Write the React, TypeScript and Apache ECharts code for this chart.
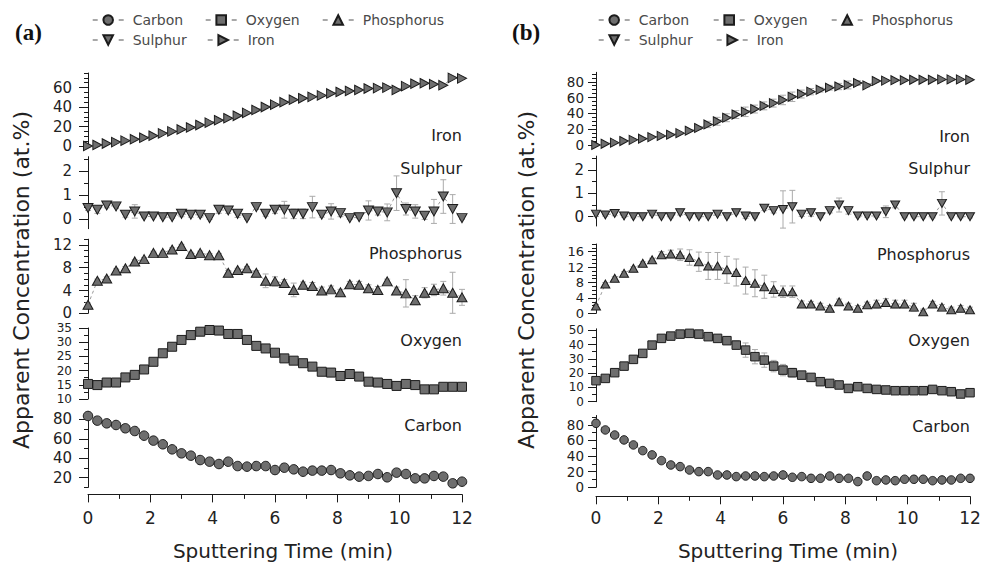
import React, { useEffect, useRef } from 'react';
import * as echarts from 'echarts';

// ---------------- data ----------------
const TIME_MIN = [0, 0.3, 0.6, 0.9, 1.2, 1.5, 1.8, 2.1, 2.4, 2.7, 3, 3.3, 3.6, 3.9, 4.2, 4.5, 4.8, 5.1, 5.4, 5.7, 6, 6.3, 6.6, 6.9, 7.2, 7.5, 7.8, 8.1, 8.4, 8.7, 9, 9.3, 9.6, 9.9, 10.2, 10.5, 10.8, 11.1, 11.4, 11.7, 12];
const ELEMENT_NAMES = ['Iron', 'Sulphur', 'Phosphorus', 'Oxygen', 'Carbon'];
const LEGEND_ORDER = ['Carbon', 'Oxygen', 'Phosphorus', 'Sulphur', 'Iron'];

// panel (a)
const A_IRON = [0, 1, 2.5, 4, 5.5, 7, 8.5, 10.5, 13, 15, 17, 19, 21.5, 24, 26.5, 28.5, 31, 34, 37, 40, 42.5, 45, 47.5, 49, 50.5, 52, 54, 55.5, 56.5, 57.5, 59, 59.5, 60, 57.5, 61.5, 64, 64.5, 63.5, 62.5, 70, 69.5];
const A_SULPHUR = [0.46, 0.39, 0.57, 0.53, 0.18, 0.32, 0.11, 0.11, 0.08, 0.08, 0.22, 0.18, 0.18, 0.04, 0.39, 0.36, 0.22, 0.04, 0.5, 0.22, 0.39, 0.39, 0.22, 0.22, 0.5, 0.18, 0.32, 0.25, 0.04, 0.08, 0.36, 0.32, 0.28, 1.08, 0.42, 0.32, 0.14, 0.32, 0.94, 0.42, 0.04];
const A_SULPHUR_ERR = [0.1, 0.15, 0.1, 0.05, 0.1, 0.28, 0.05, 0.05, 0.05, 0.05, 0.12, 0.1, 0.1, 0.05, 0.15, 0.12, 0.15, 0.05, 0.1, 0.1, 0.15, 0.35, 0.2, 0.2, 0.45, 0.1, 0.32, 0.15, 0.05, 0.05, 0.4, 0.15, 0.35, 0.72, 0.25, 0.28, 0.15, 0.5, 0.7, 0.6, 0.05];
const A_PHOSPHORUS = [1.5, 5.7, 6.1, 7.5, 7.9, 9.1, 9.5, 10.6, 10.6, 11.2, 11.8, 10.4, 10.6, 10.2, 10.2, 7.1, 7.6, 7.9, 7.1, 5.7, 5.6, 5.3, 4.1, 5.0, 4.8, 4.0, 4.2, 3.7, 5.1, 5.0, 4.4, 4.1, 5.6, 4.0, 3.5, 2.3, 3.6, 4.1, 4.4, 3.6, 2.8];
const A_PHOSPHORUS_ERR = [0.3, 0.3, 0.3, 0.3, 0.3, 0.3, 0.3, 0.3, 0.3, 0.3, 0.3, 0.3, 0.3, 0.3, 0.3, 0.4, 0.3, 0.3, 0.4, 1.2, 0.8, 0.6, 1.2, 0.5, 0.6, 0.6, 0.6, 0.5, 0.5, 0.6, 0.6, 0.6, 0.4, 0.6, 2.4, 0.8, 0.9, 1.0, 1.2, 3.6, 1.4];
const A_OXYGEN = [15.3, 14.9, 15.8, 15.8, 17.6, 18.5, 20.4, 23.1, 26.1, 28.4, 30.8, 32.5, 33.7, 34.3, 34.1, 32.9, 32.9, 30.8, 28.7, 27.8, 26.3, 24.3, 23.5, 22.6, 21.4, 19.6, 19.3, 18.1, 18.8, 17.9, 16.1, 15.8, 15.3, 14.6, 15.3, 14.9, 13.4, 13.4, 14.3, 14.3, 14.3];
const A_OXYGEN_ERR = [0.4, 0.4, 0.4, 0.4, 0.4, 0.4, 0.4, 0.4, 0.4, 0.4, 0.4, 0.4, 0.4, 0.9, 0.9, 0.9, 0.9, 0.4, 0.4, 0.4, 0.4, 0.4, 0.4, 0.4, 0.4, 0.4, 0.4, 0.4, 0.4, 0.4, 0.4, 0.4, 0.4, 0.4, 0.4, 0.4, 0.4, 0.4, 0.4, 0.4, 0.4];
const A_CARBON = [83.6, 78.8, 76, 74.3, 70.9, 68.1, 63.3, 58.2, 54.4, 49.2, 45.1, 42.7, 38.2, 36.5, 34.1, 36.5, 32, 31.4, 32, 32, 27.9, 30.3, 28.6, 26.2, 27.3, 27.3, 27.9, 24.5, 22.4, 21.1, 21.8, 23.8, 20.4, 25.2, 23.8, 19.3, 19.3, 21.8, 21.1, 14.2, 15.9];

// panel (b)
const B_IRON = [0, 1.5, 3, 5, 6.5, 8, 10, 11.5, 13, 15, 18, 21.5, 26, 30, 34.5, 38.5, 42, 45.5, 49.5, 53, 57, 61, 64.5, 67.5, 70, 72.5, 74, 76, 78.5, 75.5, 81, 81.5, 82, 82, 82.5, 82.5, 82.5, 83, 83, 83, 82.5];
const B_IRON_ERR = [0.5, 0.5, 0.5, 0.5, 0.5, 0.5, 0.5, 0.5, 0.5, 0.5, 0.5, 2, 4, 5, 5, 5, 6, 5, 5, 5, 6, 6, 5, 4, 3, 3, 4, 5, 3, 2, 1, 1, 1, 1, 1, 1, 1, 1, 1, 1, 1];
const B_SULPHUR = [0.11, 0.07, 0.14, 0.03, 0, 0, 0.11, 0, 0, 0.17, 0, 0, 0, 0.11, 0, 0.17, 0.03, 0, 0.36, 0.26, 0.31, 0.43, 0.11, 0.17, 0, 0.26, 0.5, 0.26, 0.03, 0.03, 0.03, 0.21, 0.5, 0, 0, 0, 0, 0.57, 0, 0, 0];
const B_SULPHUR_ERR = [0.1, 0.05, 0.1, 0.05, 0.05, 0.05, 0.05, 0.05, 0.05, 0.1, 0.05, 0.05, 0.05, 0.05, 0.05, 0.05, 0.1, 0.05, 0.1, 0.1, 0.8, 0.7, 0.1, 0.15, 0.05, 0.1, 0.3, 0.15, 0.05, 0.05, 0.05, 0.25, 0.12, 0.05, 0.05, 0.05, 0.05, 0.5, 0.05, 0.05, 0.05];
const B_PHOSPHORUS = [1.9, 7.6, 9.1, 10.4, 11.7, 13, 13.9, 15.2, 15.4, 15.2, 14.5, 13.4, 12.3, 12.3, 11.3, 10.6, 8.5, 7.8, 6.9, 6.2, 5.6, 5.6, 2.4, 2.4, 1.9, 1.3, 3.0, 1.9, 1.3, 2.2, 2.4, 2.8, 2.4, 2.4, 1.6, 0.4, 2.4, 1.6, 0.9, 1.3, 0.9];
const B_PHOSPHORUS_ERR = [0.4, 0.4, 0.4, 0.4, 0.4, 0.4, 0.4, 0.8, 1, 1.5, 2, 2.5, 3.5, 3.5, 3.5, 3.5, 3.5, 3.5, 3, 2, 1.5, 1.5, 0.8, 0.7, 0.7, 0.7, 0.7, 0.7, 0.7, 0.7, 1, 1, 1, 1, 1, 0.7, 0.7, 0.7, 0.7, 0.7, 0.7];
const B_OXYGEN = [14.7, 16.3, 20.3, 24.9, 29.6, 33.8, 39.6, 44.3, 45.9, 47.3, 47.8, 47.3, 45.5, 44.3, 42.7, 39.6, 36.1, 31.5, 29.1, 24.9, 22.1, 20.3, 18.6, 17, 14, 12.8, 11.7, 9.3, 10.5, 9.3, 8.6, 8.2, 7.7, 7.7, 7.7, 7.7, 8.6, 7.7, 7, 5.4, 6.3];
const B_OXYGEN_ERR = [0.8, 0.8, 0.8, 0.8, 0.8, 0.8, 0.8, 0.8, 0.8, 0.8, 0.8, 0.8, 0.8, 1.5, 2, 3, 5, 5, 5, 4, 4, 3, 2, 2, 0.8, 0.8, 0.8, 0.8, 0.8, 0.8, 0.8, 0.8, 0.8, 0.8, 0.8, 0.8, 0.8, 0.8, 0.8, 0.8, 0.8];
const B_CARBON = [82, 73.5, 67, 60.7, 54.3, 47, 41.5, 34.2, 28.6, 26.5, 22.2, 20.1, 20.1, 15.8, 15.8, 13.7, 14.5, 14.5, 13.7, 14.5, 15.8, 12.8, 13.7, 11.5, 11.5, 14.5, 11.5, 11.5, 7.3, 14.5, 8.5, 9.4, 8.5, 10.3, 10.3, 10.3, 8.5, 9.4, 9.4, 11.5, 11.5];

// tick labels (major) and minor tick values
const A_IRON_TICKS = [0, 20, 40, 60];
const A_IRON_MINOR = [5, 10, 15, 25, 30, 35, 45, 50, 55, 65, 70, 75];
const A_SULPHUR_TICKS = [0, 1, 2];
const A_SULPHUR_MINOR = [0.5, 1.5, 2.5];
const A_PHOSPHORUS_TICKS = [0, 4, 8, 12];
const A_PHOSPHORUS_MINOR = [1, 2, 3, 5, 6, 7, 9, 10, 11, 13];
const A_OXYGEN_TICKS = [10, 15, 20, 25, 30, 35];
const A_OXYGEN_MINOR = [12.5, 17.5, 22.5, 27.5, 32.5];
const A_CARBON_TICKS = [20, 40, 60, 80];
const A_CARBON_MINOR = [10, 30, 50, 70];

const B_IRON_TICKS = [0, 20, 40, 60, 80];
const B_IRON_MINOR = [5, 10, 15, 25, 30, 35, 45, 50, 55, 65, 70, 75, 85, 90];
const B_SULPHUR_TICKS = [0, 1, 2];
const B_SULPHUR_MINOR = [0.5, 1.5, 2.5];
const B_PHOSPHORUS_TICKS = [0, 4, 8, 12, 16];
const B_PHOSPHORUS_MINOR = [1, 2, 3, 5, 6, 7, 9, 10, 11, 13, 14, 15, 17, 18];
const B_OXYGEN_TICKS = [0, 10, 20, 30, 40, 50];
const B_OXYGEN_MINOR = [5, 15, 25, 35, 45];
const B_CARBON_TICKS = [0, 20, 40, 60, 80];
const B_CARBON_MINOR = [10, 30, 50, 70, 90];

// ---------------- layout / style ----------------
const FONT = 'DejaVu Sans';
const AXIS_COLOR = '#1a1a1a';
const MARK_FILL = '#6e6e6e';
const MARK_BORDER = '#1c1c1c';
const ERR_COLOR = '#ababab';

const SYMBOLS: Record<string, string> = {
  Carbon: 'circle',
  Oxygen: 'rect',
  Phosphorus: 'triangle',
  Sulphur: 'path://M0,0L10,0L5,9Z',
  Iron: 'path://M0,0L9,5L0,10Z',
};

const PANELS = [
  {
    letter: '(a)', letterX: 15, left: 88, width: 374, xOffset: 7, xLabelMargin: 15,
    yLabelMargin: 16, majorLen: 9, titleX: 21, xTitleX: 283,
    grids: [
      { top: 73, height: 73, min: 0, max: 75, labelY: 135, fs: 15 },
      { top: 156.7, height: 72, min: -0.4, max: 2.6, labelY: 168, fs: 15 },
      { top: 239.2, height: 74.1, min: 0, max: 13, labelY: 253, fs: 15 },
      { top: 328, height: 71, min: 10, max: 35, labelY: 340, fs: 12 },
      { top: 411.7, height: 75.7, min: 10, max: 88, labelY: 425, fs: 15 },
    ],
    values: [A_IRON, A_SULPHUR, A_PHOSPHORUS, A_OXYGEN, A_CARBON],
    errors: [null, A_SULPHUR_ERR, A_PHOSPHORUS_ERR, A_OXYGEN_ERR, null],
    ticks: [A_IRON_TICKS, A_SULPHUR_TICKS, A_PHOSPHORUS_TICKS, A_OXYGEN_TICKS, A_CARBON_TICKS],
    minors: [A_IRON_MINOR, A_SULPHUR_MINOR, A_PHOSPHORUS_MINOR, A_OXYGEN_MINOR, A_CARBON_MINOR],
    sizes: { Iron: [9, 9.5], Sulphur: [10, 9], Phosphorus: [10, 9], Oxygen: 9, Carbon: 9.5 },
    legendPos: [[92, 13], [205, 13], [322, 13], [92, 33], [207, 33]],
  },
  {
    letter: '(b)', letterX: 512, left: 596, width: 374, xOffset: 9, xLabelMargin: 13,
    yLabelMargin: 12, majorLen: 8, titleX: 526, xTitleX: 788,
    grids: [
      { top: 72.3, height: 72.7, min: 0, max: 92, labelY: 136.7, fs: 13.5 },
      { top: 156.1, height: 69.9, min: -0.4, max: 2.6, labelY: 168, fs: 15 },
      { top: 244, height: 69.3, min: 0, max: 18, labelY: 254, fs: 13 },
      { top: 328.8, height: 72.9, min: 0, max: 51, labelY: 340, fs: 12 },
      { top: 415.5, height: 71.8, min: 0, max: 92, labelY: 426, fs: 13.5 },
    ],
    values: [B_IRON, B_SULPHUR, B_PHOSPHORUS, B_OXYGEN, B_CARBON],
    errors: [B_IRON_ERR, B_SULPHUR_ERR, B_PHOSPHORUS_ERR, B_OXYGEN_ERR, null],
    ticks: [B_IRON_TICKS, B_SULPHUR_TICKS, B_PHOSPHORUS_TICKS, B_OXYGEN_TICKS, B_CARBON_TICKS],
    minors: [B_IRON_MINOR, B_SULPHUR_MINOR, B_PHOSPHORUS_MINOR, B_OXYGEN_MINOR, B_CARBON_MINOR],
    sizes: { Iron: [8.5, 9], Sulphur: [9, 8], Phosphorus: [9, 8], Oxygen: 8.5, Carbon: 8.5 },
    legendPos: [[598, 13], [713, 13], [831, 13], [598, 33], [716, 33]],
  },
];

function errorRenderItem(params: any, api: any) {
  const x = api.value(0);
  const y = api.value(1);
  const e = api.value(2);
  const p1 = api.coord([x, y + e]);
  const p2 = api.coord([x, y - e]);
  const w = 3;
  const style = { stroke: ERR_COLOR, lineWidth: 1 };
  return {
    type: 'group',
    children: [
      { type: 'line', shape: { x1: p1[0], y1: p1[1], x2: p2[0], y2: p2[1] }, style },
      { type: 'line', shape: { x1: p1[0] - w, y1: p1[1], x2: p1[0] + w, y2: p1[1] }, style },
      { type: 'line', shape: { x1: p2[0] - w, y1: p2[1], x2: p2[0] + w, y2: p2[1] }, style },
    ],
  };
}

function buildOption() {
  const grid: any[] = [];
  const xAxis: any[] = [];
  const yAxis: any[] = [];
  const series: any[] = [];
  const legend: any[] = [];
  const graphic: any[] = [];

  PANELS.forEach((p, pi) => {
    p.grids.forEach((g, k) => {
      const gi = pi * 5 + k;
      const name = ELEMENT_NAMES[k];
      const isBottom = k === 4;
      grid.push({ left: p.left, width: p.width, top: g.top, height: g.height, outerBoundsMode: 'none', containLabel: false });
      xAxis.push({
        type: 'value', gridIndex: gi, min: 0, max: 12, interval: 2, show: isBottom,
        position: 'bottom', offset: p.xOffset,
        axisLine: { show: true, onZero: false, lineStyle: { color: AXIS_COLOR, width: 1 } },
        axisTick: { show: true, length: 8, lineStyle: { color: AXIS_COLOR, width: 1 } },
        minorTick: { show: true, splitNumber: 2, length: 4.5, lineStyle: { color: AXIS_COLOR, width: 1 } },
        axisLabel: { show: true, margin: p.xLabelMargin, fontSize: 17, color: '#222', fontFamily: FONT, showMinLabel: true, showMaxLabel: true },
        splitLine: { show: false }, minorSplitLine: { show: false },
      });
      yAxis.push({
        type: 'value', gridIndex: gi, min: g.min, max: g.max, position: 'left',
        axisLine: { show: true, lineStyle: { color: AXIS_COLOR, width: 1 } },
        axisTick: { show: true, length: p.majorLen, customValues: p.ticks[k], lineStyle: { color: AXIS_COLOR, width: 1 } },
        axisLabel: {
          show: true, customValues: p.ticks[k], margin: p.yLabelMargin, fontSize: g.fs, lineHeight: g.fs,
          color: '#222', fontFamily: FONT, showMinLabel: true, showMaxLabel: true, hideOverlap: false,
        },
        splitLine: { show: false },
      });
      yAxis.push({
        type: 'value', gridIndex: gi, min: g.min, max: g.max, position: 'left',
        axisLine: { show: false },
        axisTick: { show: true, length: 4, customValues: p.minors[k], lineStyle: { color: AXIS_COLOR, width: 1 } },
        axisLabel: { show: false },
        splitLine: { show: false },
      });
      const vals = p.values[k];
      const errs = p.errors[k];
      if (errs) {
        series.push({
          type: 'custom', xAxisIndex: gi, yAxisIndex: gi * 2, silent: true, clip: false, z: 1,
          renderItem: errorRenderItem,
          data: TIME_MIN.map((t, i) => [t, vals[i], errs[i]]),
        });
      }
      series.push({
        type: 'line', name, xAxisIndex: gi, yAxisIndex: gi * 2,
        data: TIME_MIN.map((t, i) => [t, vals[i]]),
        symbol: SYMBOLS[name], symbolSize: (p.sizes as any)[name], showAllSymbol: true,
        itemStyle: { color: MARK_FILL, borderColor: MARK_BORDER, borderWidth: 1, opacity: 1 },
        lineStyle: { color: '#9a9a9a', width: 1, type: [3, 3] },
        clip: false, silent: true, z: 3,
      });
      graphic.push({
        type: 'text', x: p.left + p.width, y: g.labelY, silent: true,
        style: { text: name, fontSize: 16, fontFamily: FONT, fill: '#222', align: 'right', verticalAlign: 'middle', textAlign: 'right', textVerticalAlign: 'middle' },
      });
    });

    LEGEND_ORDER.forEach((name, li) => {
      const [lx, ly] = p.legendPos[li];
      legend.push({
        data: [name], left: lx, top: ly, padding: 0, itemWidth: 31, itemHeight: 12,
        selectedMode: false, orient: 'horizontal',
        textStyle: { fontSize: 14, color: '#4a4a4a', fontFamily: FONT, padding: [0, 0, 0, 4] },
        lineStyle: { type: [5, 21], color: '#8c8c8c', width: 1.4 },
      });
    });

    graphic.push({
      type: 'text', x: p.letterX, y: 32, silent: true,
      style: { text: p.letter, fontSize: 23, fontWeight: 'bold', fontFamily: 'Liberation Serif', fill: '#111', align: 'left', verticalAlign: 'middle', textAlign: 'left', textVerticalAlign: 'middle' },
    });
    graphic.push({
      type: 'text', x: p.titleX, y: 280, rotation: Math.PI / 2, silent: true,
      style: { text: 'Apparent Concentration (at.%)', fontSize: 22, fontFamily: FONT, fill: '#222', align: 'center', verticalAlign: 'middle', textAlign: 'center', textVerticalAlign: 'middle' },
    });
    graphic.push({
      type: 'text', x: p.xTitleX, y: 551, silent: true,
      style: { text: 'Sputtering Time (min)', fontSize: 20, fontFamily: FONT, fill: '#222', align: 'center', verticalAlign: 'middle', textAlign: 'center', textVerticalAlign: 'middle' },
    });
  });

  return {
    animation: false,
    backgroundColor: '#ffffff',
    textStyle: { fontFamily: FONT },
    grid, xAxis, yAxis, series, legend,
    graphic: { elements: graphic },
  };
}

export default function App() {
  const ref = useRef<HTMLDivElement>(null);
  useEffect(() => {
    if (!ref.current) return;
    const chart = echarts.init(ref.current, undefined, { renderer: 'svg' });
    chart.setOption(buildOption() as any);
    return () => chart.dispose();
  }, []);
  return <div ref={ref} style={{ position: 'fixed', left: 0, top: 0, width: 981, height: 562, background: '#fff' }} />;
}
